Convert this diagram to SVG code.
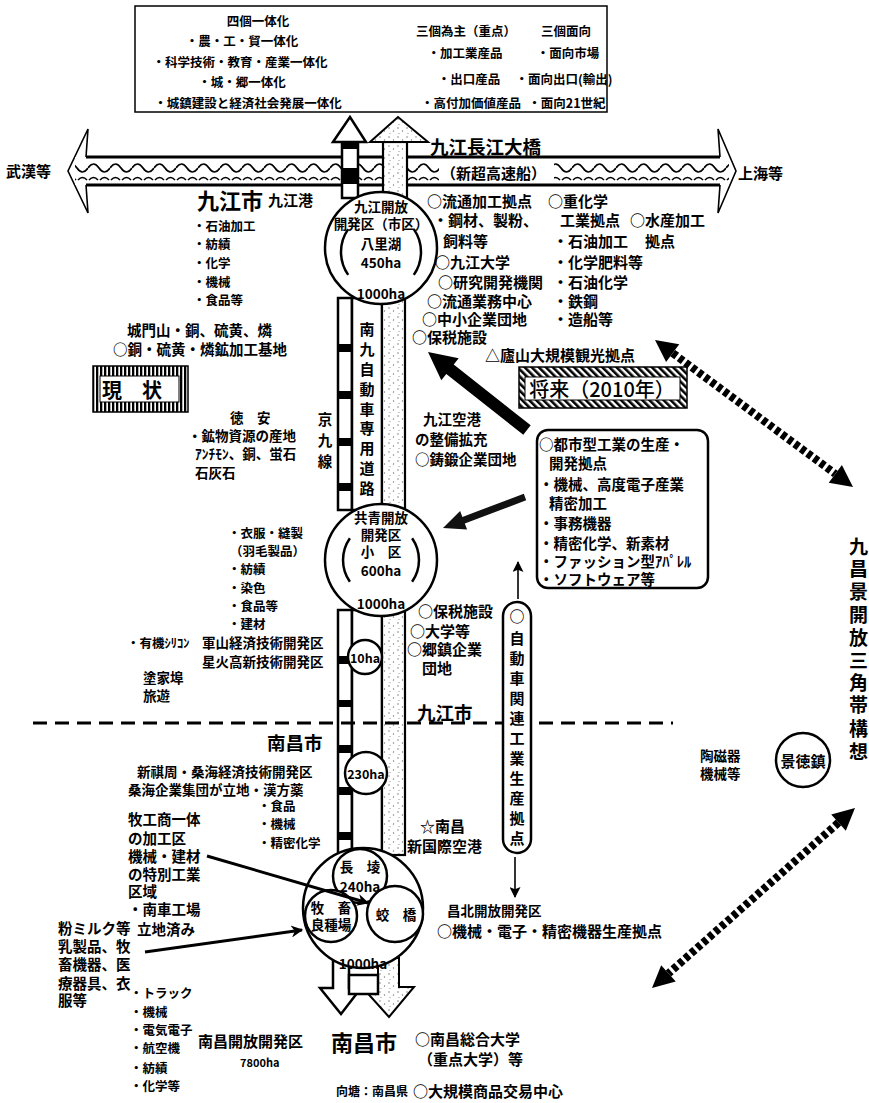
<svg xmlns="http://www.w3.org/2000/svg" width="869" height="1103" viewBox="0 0 869 1103">
<style>
text{font-family:"Noto Sans CJK JP","Noto Sans CJK SC",sans-serif;font-weight:700;fill:#000;dominant-baseline:central}
.f11{font-size:11px}.f12{font-size:12.5px}.f13{font-size:13.5px}.f14{font-size:14.5px}.f15{font-size:15px}.f18{font-size:18.5px}.f20{font-size:20px}.f22{font-size:22px}
.m{text-anchor:middle}
.ln{fill:none;stroke:#000;stroke-width:2.5}
.wh{fill:#fff;stroke:#000;stroke-width:2.5}
.blk{fill:#000}
.thin{fill:none;stroke:#000;stroke-width:1.6}
</style>
<defs>
<pattern id="wave" patternUnits="userSpaceOnUse" x="0" y="157" width="22" height="28">
<rect width="22" height="28" fill="#fff"/>
<path d="M0,11 Q5.5,3 11,11 T22,11" fill="none" stroke="#000" stroke-width="1.7"/>
<path d="M1,23 Q5.5,18 10,23 M12,23 Q16.5,18 21,23" fill="none" stroke="#000" stroke-width="1.5"/>
</pattern>
<pattern id="stip" patternUnits="userSpaceOnUse" width="9" height="9">
<rect width="9" height="9" fill="#fff"/>
<circle cx="2" cy="2" r="0.7" fill="#666"/><circle cx="6.5" cy="5" r="0.7" fill="#777"/><circle cx="3" cy="7.5" r="0.6" fill="#888"/>
</pattern>
<pattern id="vstripe" patternUnits="userSpaceOnUse" width="4" height="4">
<rect width="4" height="4" fill="#fff"/><rect width="2.3" height="4" fill="#000"/>
</pattern>
<pattern id="dhatch" patternUnits="userSpaceOnUse" width="5" height="5" patternTransform="rotate(-45)">
<rect width="5" height="5" fill="#fff"/><rect width="2.6" height="5" fill="#000"/>
</pattern>
<marker id="ah" viewBox="0 0 10 10" refX="9" refY="5" markerWidth="14" markerHeight="12" markerUnits="userSpaceOnUse" orient="auto">
<path d="M0,0 L10,5 L0,10 L3,5 Z" fill="#000"/>
</marker>
<marker id="ahs" viewBox="0 0 10 10" refX="9" refY="5" markerWidth="15" markerHeight="11" markerUnits="userSpaceOnUse" orient="auto">
<path d="M0,0 L10,5 L0,10 L2,5 Z" fill="#000"/>
</marker>
</defs>
<rect width="869" height="1103" fill="#fff"/>

<g id="top-box">
<rect x="135" y="6" width="472" height="106" fill="#fff" stroke="#000" stroke-width="1.5"/>
<text class="f12 m" x="258" y="20">四個一体化</text>
<text class="f12 m" x="242" y="40">・農・工・貿一体化</text>
<text class="f12 m" x="240" y="61">・科学技術・教育・産業一体化</text>
<text class="f12 m" x="242" y="81">・城・郷一体化</text>
<text class="f12 m" x="248" y="102">・城鎮建設と経済社会発展一体化</text>
<text class="f12 m" x="466" y="30">三個為主（重点）</text>
<text class="f12 m" x="465" y="52">・加工業産品</text>
<text class="f12 m" x="469" y="78">・出口産品</text>
<text class="f12 m" x="471" y="102">・高付加価値産品</text>
<text class="f12 m" x="566" y="30">三個面向</text>
<text class="f12 m" x="568" y="52">・面向市場</text>
<text class="f12 m" x="564" y="78">・面向出口(輸出)</text>
<text class="f12 m" x="567" y="102">・面向21世紀</text>
</g>

<g id="river">
<path d="M86,157 L88,129 L68,171 L88,213 L86,185 Z M720,157 L718,129 L736,171 L718,213 L720,185 Z" fill="#fff" stroke="#000" stroke-width="1.6"/>
<rect x="75" y="157" width="654" height="28" fill="url(#wave)"/>
<line x1="86" y1="157" x2="720" y2="157" stroke="#000" stroke-width="3"/>
<line x1="86" y1="185" x2="720" y2="185" stroke="#000" stroke-width="3"/>
<text class="f15" x="6" y="170">武漢等</text>
<text class="f15" x="738" y="172">上海等</text>
<rect x="439" y="163" width="115" height="19" fill="#fff"/>
<text class="f15" x="441" y="172">（新超高速船）</text>
<text class="f18" x="430" y="146">九江長江大橋</text>
</g>

<g id="spine">
<rect x="342" y="142" width="16" height="56" class="wh" stroke-width="2"/>
<rect x="342" y="142" width="16" height="7" class="blk"/>
<rect x="342" y="168" width="16" height="16" class="blk"/>
<path d="M333,142 L350,117 L366,142 Z" class="wh" stroke-width="2"/>
<rect x="383" y="142" width="24" height="60" fill="url(#stip)" stroke="#000" stroke-width="2.2"/>
<path d="M370,142 L398,117 L428,142 Z" fill="url(#stip)" stroke="#000" stroke-width="2"/>

<rect x="338" y="298" width="14" height="212" class="wh" stroke-width="2"/>
<rect x="352" y="298" width="30" height="212" class="wh" stroke-width="1.6"/>
<rect x="382" y="298" width="23" height="212" fill="url(#stip)" stroke="#000" stroke-width="2.2"/>
<rect x="338" y="344" width="14" height="8" class="blk"/>
<rect x="338" y="391" width="14" height="8" class="blk"/>
<rect x="338" y="438" width="14" height="8" class="blk"/>
<rect x="338" y="483" width="14" height="8" class="blk"/>

<rect x="338" y="610" width="14" height="245" class="wh" stroke-width="2"/>
<rect x="352" y="610" width="30" height="245" class="wh" stroke-width="1.6"/>
<rect x="382" y="610" width="23" height="245" fill="url(#stip)" stroke="#000" stroke-width="2.2"/>
<rect x="338" y="656" width="14" height="8" class="blk"/>
<rect x="338" y="700" width="14" height="7" class="blk"/>
<rect x="338" y="745" width="14" height="8" class="blk"/>
<rect x="338" y="787" width="14" height="8" class="blk"/>
<rect x="338" y="832" width="14" height="8" class="blk"/>

<path d="M333,958 L333,988 L320,988 L341,1014 L361,988 L349,988 L349,958 Z" class="wh" stroke-width="2"/>
<path d="M378,958 L378,987 L362,987 L389,1017 L414,987 L399,987 L399,958 Z" fill="url(#stip)" stroke="#000" stroke-width="2"/>
<rect x="349" y="975" width="29" height="19" class="wh" stroke-width="2"/>

<text class="f15 m" x="367"><tspan x="367" y="328">南</tspan><tspan x="367" y="348">九</tspan><tspan x="367" y="368">自</tspan><tspan x="367" y="388">動</tspan><tspan x="367" y="408">車</tspan><tspan x="367" y="427">専</tspan><tspan x="367" y="447">用</tspan><tspan x="367" y="467">道</tspan><tspan x="367" y="487">路</tspan></text>
<text class="f14 m" x="325"><tspan x="325" y="418">京</tspan><tspan x="325" y="439">九</tspan><tspan x="325" y="460">線</tspan></text>
</g>

<g id="kyuko-zone">
<circle cx="381" cy="248" r="56" class="wh"/>
<path d="M348.2,229.1 A40,40 0 0 0 348.2,274.9 M413.8,229.1 A40,40 0 0 1 413.8,274.9" class="ln" stroke-width="2"/>
<text class="f13 m" x="381" y="206">九江開放</text>
<text class="f13 m" x="381" y="223">開発区（市区）</text>
<text class="f13 m" x="381" y="243">八里湖</text>
<text class="f13 m" x="381" y="262">450ha</text>
<text class="f13 m" x="381" y="293">1000ha</text>
</g>

<g id="kyosei-zone">
<circle cx="381" cy="560" r="56" class="wh"/>
<path d="M349.9,538.2 A38,38 0 0 0 349.9,581.8 M412.1,538.2 A38,38 0 0 1 412.1,581.8" class="ln" stroke-width="2"/>
<text class="f13 m" x="381" y="517">共青開放</text>
<text class="f13 m" x="381" y="534">開発区</text>
<text class="f13 m" x="381" y="551">小　区</text>
<text class="f13 m" x="381" y="570">600ha</text>
<text class="f13 m" x="381" y="603">1000ha</text>
</g>

<g id="zone-10ha">
<circle cx="365" cy="657" r="17" class="wh"/>
<text class="f12 m" x="365" y="657">10ha</text>
</g>
<g id="zone-230ha">
<circle cx="366" cy="773" r="21" class="wh"/>
<text class="f12 m" x="366" y="773">230ha</text>
</g>

<g id="nanchang-zone">
<circle cx="363" cy="908" r="60" class="wh"/>
<circle cx="360" cy="876" r="27" class="wh"/>
<circle cx="331" cy="916" r="26" class="wh"/>
<circle cx="395" cy="914" r="28" class="wh"/>
<text class="f13 m" x="360" y="866">長　堎</text>
<text class="f13 m" x="360" y="886">240ha</text>
<text class="f13 m" x="331" y="907">牧　畜</text>
<text class="f13 m" x="331" y="924">良種場</text>
<text class="f13 m" x="396" y="914">蛟　橋</text>
<text class="f13 m" x="363" y="963">1000ha</text>
</g>

<g id="connectors">
<path d="M530.7,425.3 L453.7,364.6 L458.7,358.3 L428,352 L441.3,380.3 L446.3,374 L523.3,434.7 Z" fill="#000"/>
<path d="M523.8,493.7 L462.4,516.9 L460.1,510.9 L443,528 L467.1,529.6 L464.8,523.5 L526.2,500.3 Z" fill="#111"/>
<line x1="518" y1="599" x2="518" y2="562" class="thin" marker-end="url(#ahs)"/>
<line x1="515" y1="857" x2="515" y2="897" class="thin" marker-end="url(#ahs)"/>
<line x1="207" y1="856" x2="368" y2="903" stroke="#000" stroke-width="3" marker-end="url(#ah)"/>
<line x1="145" y1="952" x2="302" y2="930" stroke="#000" stroke-width="3" marker-end="url(#ah)"/>
<line x1="33" y1="723" x2="673" y2="723" stroke="#000" stroke-width="3" stroke-dasharray="14 8"/>
<line x1="672.7" y1="353.1" x2="835.3" y2="473.9" stroke="#000" stroke-width="8" stroke-dasharray="5 3"/>
<path d="M655,340 L666.1,361.9 L672.7,353.1 L679.3,344.3 Z M853,487 L828.7,482.7 L835.3,473.9 L841.9,465.1 Z" fill="#000"/>
<line x1="838.5" y1="822.6" x2="668.5" y2="973.4" stroke="#000" stroke-width="8" stroke-dasharray="5 3"/>
<path d="M855,808 L831.2,814.4 L838.5,822.6 L845.8,830.8 Z M652,988 L661.2,965.2 L668.5,973.4 L675.8,981.6 Z" fill="#000"/>
</g>

<g id="kyuko-city">
<text class="f22" x="197" y="199">九江市</text>
<text class="f15" x="268" y="199">九江港</text>
<text class="f12" x="193" y="225">・石油加工</text>
<text class="f12" x="193" y="243">・紡績</text>
<text class="f12" x="193" y="262">・化学</text>
<text class="f12" x="193" y="281">・機械</text>
<text class="f12" x="193" y="299">・食品等</text>
<text class="f14" x="127" y="329">城門山・銅、硫黄、燐</text>
<text class="f14" x="113" y="348">○銅・硫黄・燐鉱加工基地</text>
</g>

<g id="genjo-label">
<rect x="93" y="366" width="95" height="46" fill="url(#vstripe)" stroke="#000" stroke-width="1.5"/>
<rect x="100" y="376" width="79" height="26" fill="#fff" stroke="#000" stroke-width="1"/>
<text class="f20" x="102" y="389">現　状</text>
</g>

<g id="tokuan">
<text class="f13" x="230" y="417">徳　安</text>
<text class="f13" x="188" y="435">・鉱物資源の産地</text>
<text class="f13" x="195" y="453">ｱﾝﾁﾓﾝ、銅、蛍石</text>
<text class="f13" x="195" y="472">石灰石</text>
</g>

<g id="kyosei-industry">
<text class="f12" x="228" y="532">・衣服・縫製</text>
<text class="f12" x="230" y="550">（羽毛製品）</text>
<text class="f12" x="228" y="568">・紡績</text>
<text class="f12" x="228" y="587">・染色</text>
<text class="f12" x="228" y="605">・食品等</text>
<text class="f12" x="228" y="623">・建材</text>
<text class="f12" x="127" y="642">・有機ｼﾘｺﾝ</text>
<text class="f13" x="202" y="642">軍山経済技術開発区</text>
<text class="f13" x="202" y="661">星火高新技術開発区</text>
<text class="f13" x="143" y="677">塗家埠</text>
<text class="f13" x="143" y="695">旅遊</text>
</g>

<g id="nanchang-left">
<text class="f18" x="267" y="742">南昌市</text>
<text class="f13" x="137" y="771">新祺周・桑海経済技術開発区</text>
<text class="f13" x="128" y="789">桑海企業集団が立地・漢方薬</text>
<text class="f12" x="258" y="805">・食品</text>
<text class="f12" x="258" y="823">・機械</text>
<text class="f12" x="258" y="842">・精密化学</text>
<text class="f14" x="128" y="818">牧工商一体</text>
<text class="f14" x="128" y="837">の加工区</text>
<text class="f14" x="128" y="855">機械・建材</text>
<text class="f14" x="128" y="873">の特別工業</text>
<text class="f14" x="128" y="890">区域</text>
<text class="f14" x="128" y="908">・南車工場</text>
<text class="f14" x="137" y="928">立地済み</text>
<text class="f14" x="58" y="927">粉ミルク等</text>
<text class="f14" x="58" y="945">乳製品、牧</text>
<text class="f14" x="58" y="963">畜機器、医</text>
<text class="f14" x="58" y="982">療器具、衣</text>
<text class="f14" x="58" y="999">服等</text>
<text class="f12" x="130" y="992">・トラック</text>
<text class="f12" x="130" y="1011">・機械</text>
<text class="f12" x="130" y="1029">・電気電子</text>
<text class="f12" x="130" y="1047">・航空機</text>
<text class="f12" x="130" y="1067">・紡績</text>
<text class="f12" x="130" y="1085">・化学等</text>
<text class="f15" x="198" y="1040">南昌開放開発区</text>
<text class="f11" x="240" y="1062">7800ha</text>
</g>

<g id="nanchang-bottom">
<text class="f22" x="331" y="1041">南昌市</text>
<text class="f15" x="415" y="1038">○南昌総合大学</text>
<text class="f15" x="418" y="1058">（重点大学）等</text>
<text class="f12" x="336" y="1090" style="font-size:12px">向塘：南昌県</text>
<text class="f15" x="413" y="1090">○大規模商品交易中心</text>
</g>

<g id="kyuko-future">
<text class="f15" x="427" y="200">○流通加工拠点</text>
<text class="f15" x="548" y="200">○重化学</text>
<text class="f15" x="433" y="219">・鋼材、製粉、</text>
<text class="f15" x="560" y="219">工業拠点</text>
<text class="f15" x="630" y="219">○水産加工</text>
<text class="f15" x="443" y="240">飼料等</text>
<text class="f15" x="553" y="240">・石油加工</text>
<text class="f15" x="645" y="240">拠点</text>
<text class="f15" x="435" y="261">○九江大学</text>
<text class="f15" x="553" y="261">・化学肥料等</text>
<text class="f15" x="438" y="281">○研究開発機関</text>
<text class="f15" x="553" y="281">・石油化学</text>
<text class="f15" x="427" y="300">○流通業務中心</text>
<text class="f15" x="553" y="300">・鉄鋼</text>
<text class="f15" x="422" y="318">○中小企業団地</text>
<text class="f15" x="553" y="318">・造船等</text>
<text class="f15" x="412" y="336">○保税施設</text>
<text class="f15" x="485" y="354">△廬山大規模観光拠点</text>
<text class="f14" x="423" y="418">九江空港</text>
<text class="f14" x="415" y="438">の整備拡充</text>
<text class="f14" x="415" y="458">○鋳鍛企業団地</text>
</g>

<g id="shorai-label">
<rect x="519" y="367" width="168" height="41" fill="url(#dhatch)" stroke="#000" stroke-width="1.5"/>
<rect x="525" y="377" width="155" height="23" fill="#fff" stroke="#000" stroke-width="1"/>
<text class="f20 m" x="602" y="388" style="font-weight:500">将来（2010年）</text>
</g>

<g id="urban-industry">
<rect x="537" y="430" width="171" height="158" rx="11" class="wh"/>
<text class="f14" x="539" y="443">○都市型工業の生産・</text>
<text class="f14" x="549" y="462">開発拠点</text>
<text class="f14" x="539" y="483">・機械、高度電子産業</text>
<text class="f14" x="549" y="502">精密加工</text>
<text class="f14" x="539" y="522">・事務機器</text>
<text class="f14" x="539" y="542">・精密化学、新素材</text>
<text class="f14" x="539" y="560">・ファッション型ｱﾊﾟﾚﾙ</text>
<text class="f14" x="539" y="578">・ソフトウェア等</text>
</g>

<g id="kyosei-future">
<text class="f15" x="418" y="610">○保税施設</text>
<text class="f15" x="410" y="630">○大学等</text>
<text class="f15" x="407" y="648">○郷鎮企業</text>
<text class="f15" x="422" y="667">団地</text>
<text class="f18" x="417" y="712">九江市</text>
</g>

<g id="auto-industry">
<rect x="503" y="602" width="28" height="251" rx="14" class="wh" stroke-width="2"/>
<text class="f15 m" x="517"><tspan x="517" y="615">○</tspan><tspan x="517" y="637">自</tspan><tspan x="517" y="657">動</tspan><tspan x="517" y="677">車</tspan><tspan x="517" y="697">関</tspan><tspan x="517" y="717">連</tspan><tspan x="517" y="737">工</tspan><tspan x="517" y="757">業</tspan><tspan x="517" y="777">生</tspan><tspan x="517" y="797">産</tspan><tspan x="517" y="817">拠</tspan><tspan x="517" y="837">点</tspan></text>
</g>

<g id="nanchang-future">
<text class="f15" x="420" y="825">☆南昌</text>
<text class="f15" x="407" y="845">新国際空港</text>
<text class="f13" x="447" y="910">昌北開放開発区</text>
<text class="f15" x="437" y="930">○機械・電子・精密機器生産拠点</text>
</g>

<g id="jingdezhen">
<circle cx="803" cy="760" r="27" class="wh" stroke-width="2.2"/>
<text class="f15 m" x="803" y="760">景徳鎮</text>
<text class="f13" x="700" y="755">陶磁器</text>
<text class="f13" x="700" y="773">機械等</text>
</g>

<g id="triangle-label">
<text x="849" style="font-size:19px"><tspan x="849" y="545">九</tspan><tspan x="849" y="567">昌</tspan><tspan x="849" y="590">景</tspan><tspan x="849" y="613">開</tspan><tspan x="849" y="636">放</tspan><tspan x="849" y="659">三</tspan><tspan x="849" y="681">角</tspan><tspan x="849" y="703">帯</tspan><tspan x="849" y="727">構</tspan><tspan x="849" y="750">想</tspan></text>
</g>
</svg>
